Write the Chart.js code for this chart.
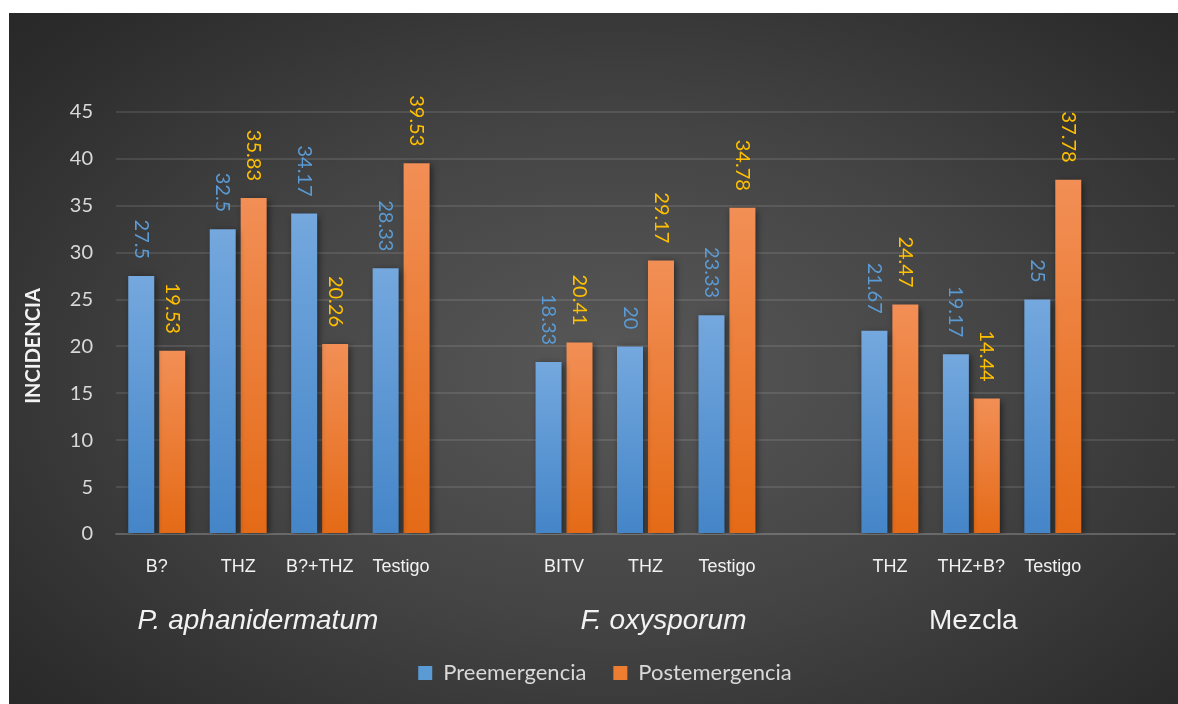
<!DOCTYPE html>
<html>
<head>
<meta charset="utf-8">
<script src="https://cdn.jsdelivr.net/npm/chart.js@4.4.1/dist/chart.umd.min.js"></script>
<style>
  html, body { margin: 0; padding: 0; background: #fff; }
  #wrap {
    position: absolute; left: 9px; top: 13px; width: 1169px; height: 691px;
    background: radial-gradient(ellipse 75% 80% at 52% 52%, #585858 0%, #444 45%, #2c2c2c 85%, #262626 100%);
  }
</style>
</head>
<body>
<div id="wrap"><canvas id="c"></canvas></div>
<script>
// categorías (las vacías separan los grupos)
const labels = ['B?', 'THZ', 'B?+THZ', 'Testigo', '', 'BITV', 'THZ', 'Testigo', '', 'THZ', 'THZ+B?', 'Testigo', ''];
const preemergencia  = [27.5, 32.5, 34.17, 28.33, null, 18.33, 20, 23.33, null, 21.67, 19.17, 25, null];
const postemergencia = [19.53, 35.83, 20.26, 39.53, null, 20.41, 29.17, 34.78, null, 24.47, 14.44, 37.78, null];
const yTicks = [0, 5, 10, 15, 20, 25, 30, 35, 40, 45];

// grupos: nombre, primer y último índice
const groupNames = ['P. aphanidermatum', 'F. oxysporum', 'Mezcla'];
const groupFrom = [0, 5, 9];
const groupTo = [3, 7, 11];
const groupItalic = [true, true, false];

/** degradado vertical por barra */
function barGradient(ctx, top, bottom) {
    const chart = ctx.chart;
    const ys = chart.scales.y;
    const v = ctx.parsed ? ctx.parsed.y : null;
    if (!chart.chartArea || !ys || v == null) return bottom;
    const y0 = ys.getPixelForValue(v);
    const y1 = ys.getPixelForValue(0);
    const g = chart.ctx.createLinearGradient(0, y0, 0, y1);
    g.addColorStop(0, top);
    g.addColorStop(1, bottom);
    return g;
}

// sombras de las barras
const shadowPlugin = {
    id: 'shadow',
    beforeDatasetsDraw(chart) {
        const c = chart.ctx;
        c.save();
        c.shadowColor = 'rgba(0,0,0,0.55)';
        c.shadowBlur = 7;
        c.shadowOffsetX = 2;
        c.shadowOffsetY = 2;
    },
    afterDatasetsDraw(chart) { chart.ctx.restore(); }
};

// etiquetas de valor giradas 90°
const valueLabels = {
    id: 'valueLabels',
    afterDatasetsDraw(chart) {
        const c = chart.ctx;
        const colors = ['#5B9BD5', '#FFC000'];
        chart.data.datasets.forEach((ds, i) => {
            chart.getDatasetMeta(i).data.forEach((bar, j) => {
                const v = ds.data[j];
                if (v == null) return;
                c.save();
                c.translate(bar.x, bar.y - 17);
                c.rotate(Math.PI / 2);
                c.font = '20px Lato';
                c.fillStyle = colors[i];
                c.textAlign = 'right';
                c.textBaseline = 'middle';
                c.fillText(String(v), 0, 0);
                c.restore();
            });
        });
    }
};

// nombres de grupo, título del eje Y y desplazamiento de la leyenda
const groupLabels = {
    id: 'groupLabels',
    afterLayout(chart) {
        chart.legend.left += 13;
        chart.legend.right += 13;
    },
    afterDraw(chart) {
        const c = chart.ctx;
        const xs = chart.scales.x;
        const area = chart.chartArea;
        const dx = [-21, 18, 2];
        c.save();
        c.fillStyle = '#F2F2F2';
        c.textAlign = 'center';
        c.textBaseline = 'middle';
        groupNames.forEach((name, k) => {
            const x = (xs.getPixelForValue(groupFrom[k]) + xs.getPixelForValue(groupTo[k])) / 2 + dx[k];
            c.font = (groupItalic[k] ? 'italic ' : '') + '28px "Liberation Sans", Arial';
            c.fillText(name, x, area.bottom + 87);
        });
        c.translate(25, (area.top + area.bottom) / 2 + 23);
        c.rotate(-Math.PI / 2);
        c.font = 'bold 20px Lato';
        c.fillStyle = '#F2F2F2';
        c.fillText('INCIDENCIA', 0, 0);
        c.restore();
    }
};

new Chart(document.getElementById('c'), {
    type: 'bar',
    data: {
        labels,
        datasets: [
            {
                label: 'Preemergencia',
                data: preemergencia,
                backgroundColor: ctx => barGradient(ctx, '#74A8DE', '#4485C8'),
                barPercentage: 0.84,
                categoryPercentage: 0.76
            },
            {
                label: 'Postemergencia',
                data: postemergencia,
                backgroundColor: ctx => barGradient(ctx, '#F28F56', '#E46A16'),
                barPercentage: 0.84,
                categoryPercentage: 0.76
            }
        ]
    },
    options: {
        responsive: true,
        maintainAspectRatio: false,
        animation: false,
        layout: { padding: { top: 99, right: 3, left: 0, bottom: 10 } },
        plugins: {
            legend: {
                position: 'bottom',
                labels: {
                    color: '#D9D9D9',
                    font: { family: 'Lato', size: 22 },
                    boxWidth: 14,
                    boxHeight: 14,
                    padding: 27,
                    generateLabels(chart) {
                        const fills = ['#5B9BD5', '#ED7D31'];
                        return chart.data.datasets.map((ds, i) => ({
                            text: ds.label, fillStyle: fills[i], strokeStyle: fills[i],
                            lineWidth: 0, datasetIndex: i, fontColor: '#D9D9D9'
                        }));
                    }
                }
            },
            tooltip: { enabled: false }
        },
        scales: {
            x: {
                grid: { display: false, drawTicks: false },
                border: { color: 'rgba(255,255,255,0.12)', width: 2 },
                ticks: {
                    color: '#F2F2F2',
                    font: { family: '"Liberation Sans", Arial', size: 18 },
                    padding: 22,
                    maxRotation: 0,
                    autoSkip: false
                },
                afterFit(scale) { scale.height = 101; }
            },
            y: {
                min: 0,
                max: 45,
                afterBuildTicks(scale) { scale.ticks = yTicks.map(v => ({ value: v })); },
                grid: { color: 'rgba(255,255,255,0.1)', lineWidth: 2, drawTicks: false },
                border: { display: false },
                ticks: {
                    color: '#D9D9D9',
                    font: { family: 'Lato', size: 20 },
                    padding: 23
                },
                afterFit(scale) { scale.width = 107; }
            }
        }
    },
    plugins: [shadowPlugin, valueLabels, groupLabels]
});
</script>
</body>
</html>
